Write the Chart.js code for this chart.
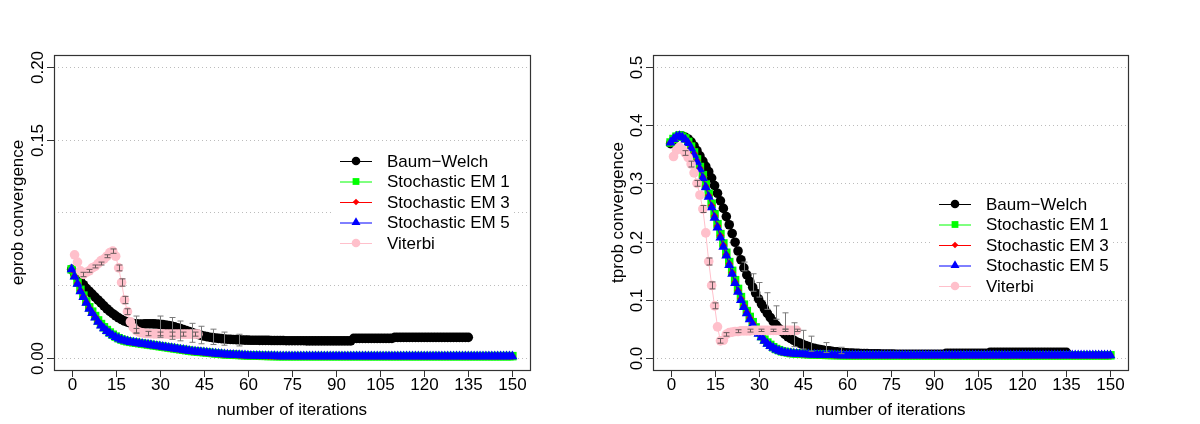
<!DOCTYPE html>
<html>
<head>
<meta charset="utf-8">
<script src="https://cdn.jsdelivr.net/npm/chart.js"></script>
<style>
  body { margin: 0; background: #fff; display: flex; }
  canvas { display: block; }
</style>
</head>
<body>
<canvas id="eprobChart" width="600" height="424"></canvas>
<canvas id="tprobChart" width="600" height="424"></canvas>
<script>
// ---- data ----
const seriesNames = ['Baum\u2212Welch', 'Stochastic EM 1', 'Stochastic EM 3', 'Stochastic EM 5', 'Viterbi'];
const iterTicks = [0, 15, 30, 45, 60, 75, 90, 105, 120, 135, 150];
const iterTickLabels = ['0', '15', '30', '45', '60', '75', '90', '105', '120', '135', '150'];

// first iteration of each series (Baum-Welch, SEM 1, SEM 3, SEM 5, Viterbi)
const seriesStart = [0, 0, 0, 0, 1];

// left panel: eprob convergence
const eprobGrid = [0, 0.05, 0.1, 0.15, 0.2];
const eprobTicks = [0, 0.15, 0.2];
const eprobTickLabels = ['0.00', '0.15', '0.20'];

const eprobBW = [
  0.061, 0.058, 0.0555, 0.053, 0.0505, 0.048, 0.046, 0.044, 0.042, 0.040,
  0.038, 0.036, 0.034, 0.0322, 0.0306, 0.0291, 0.0278, 0.0266, 0.0256, 0.0248,
  0.0242, 0.0238, 0.0236, 0.0235, 0.0235, 0.0236, 0.0237, 0.0237, 0.0236, 0.0235,
  0.0233, 0.0231, 0.0228, 0.0225, 0.0221, 0.0216, 0.0210, 0.0204, 0.0197, 0.0190,
  0.0183, 0.0176, 0.0170, 0.0164, 0.0158, 0.0153, 0.0149, 0.0145, 0.0142, 0.0139,
  0.0137, 0.0135, 0.0133, 0.0131, 0.0130, 0.0129, 0.0128, 0.0127, 0.0126, 0.0125,
  0.0125, 0.0124, 0.0124, 0.0124, 0.0123, 0.0123, 0.0123, 0.0123, 0.0122, 0.0122,
  0.0122, 0.0122, 0.0122, 0.0121, 0.0121, 0.0121, 0.0121, 0.0121, 0.0121, 0.0121,
  0.0120, 0.0120, 0.0120, 0.0120, 0.0120, 0.0120, 0.0120, 0.0120, 0.0120, 0.0120,
  0.0120, 0.0120, 0.0120, 0.0120, 0.0120, 0.0120, 0.0137, 0.0137, 0.0137, 0.0137,
  0.0137, 0.0137, 0.0137, 0.0137, 0.0137, 0.0137, 0.0137, 0.0137, 0.0137, 0.0137,
  0.0144, 0.0144, 0.0144, 0.0144, 0.0144, 0.0144, 0.0144, 0.0144, 0.0144, 0.0144,
  0.0144, 0.0144, 0.0144, 0.0144, 0.0144, 0.0144, 0.0144, 0.0144, 0.0144, 0.0144,
  0.0144, 0.0144, 0.0144, 0.0144, 0.0144, 0.0144
];
const eprobSEM1 = [
  0.061, 0.057, 0.052, 0.047, 0.043, 0.039, 0.035, 0.032, 0.029, 0.026,
  0.0235, 0.0213, 0.0194, 0.0177, 0.0162, 0.0149, 0.0138, 0.0129, 0.0122, 0.0117,
  0.0113, 0.0110, 0.0107, 0.0104, 0.0101, 0.0098, 0.0095, 0.0092, 0.0089, 0.0086,
  0.0083, 0.0080, 0.0077, 0.0074, 0.0071, 0.0068, 0.0065, 0.0062, 0.0059, 0.0056,
  0.0053, 0.0050, 0.0048, 0.0046, 0.0044, 0.0042, 0.0040, 0.0038, 0.0036, 0.0034,
  0.0032, 0.0030, 0.0028, 0.0027, 0.0026, 0.0025, 0.0024, 0.0023, 0.0022, 0.0021,
  0.0020, 0.0019, 0.0019, 0.0018, 0.0018, 0.0017, 0.0017, 0.0016, 0.0016, 0.0016,
  0.0015, 0.0015, 0.0015, 0.0015, 0.0015, 0.0015, 0.0015, 0.0015, 0.0015, 0.0015,
  0.0015, 0.0015, 0.0015, 0.0015, 0.0015, 0.0015, 0.0015, 0.0015, 0.0015, 0.0015,
  0.0015, 0.0015, 0.0015, 0.0015, 0.0015, 0.0015, 0.0015, 0.0015, 0.0015, 0.0015,
  0.0015, 0.0015, 0.0015, 0.0015, 0.0015, 0.0015, 0.0015, 0.0015, 0.0015, 0.0015,
  0.0015, 0.0015, 0.0015, 0.0015, 0.0015, 0.0015, 0.0015, 0.0015, 0.0015, 0.0015,
  0.0015, 0.0015, 0.0015, 0.0015, 0.0015, 0.0015, 0.0015, 0.0015, 0.0015, 0.0015,
  0.0015, 0.0015, 0.0015, 0.0015, 0.0015, 0.0015, 0.0015, 0.0015, 0.0015, 0.0015,
  0.0015, 0.0015, 0.0015, 0.0015, 0.0015, 0.0015, 0.0015, 0.0015, 0.0015, 0.0015,
  0.0015
];
const eprobSEM3 = [
  0.061, 0.0565, 0.0515, 0.0465, 0.0425, 0.0385, 0.0345, 0.0315, 0.0285, 0.0255,
  0.023, 0.0209, 0.019, 0.0174, 0.016, 0.0147, 0.0136, 0.0128, 0.0121, 0.0116,
  0.0112, 0.0109, 0.0106, 0.0103, 0.0100, 0.0097, 0.0094, 0.0091, 0.0088, 0.0085,
  0.0082, 0.0079, 0.0076, 0.0073, 0.0070, 0.0067, 0.0064, 0.0061, 0.0058, 0.0055,
  0.0052, 0.0049, 0.0047, 0.0045, 0.0043, 0.0041, 0.0039, 0.0037, 0.0035, 0.0033,
  0.0031, 0.0029, 0.0027, 0.0026, 0.0025, 0.0024, 0.0023, 0.0022, 0.0021, 0.0020,
  0.0019, 0.0018, 0.0018, 0.0017, 0.0017, 0.0016, 0.0016, 0.0015, 0.0015, 0.0015,
  0.0014, 0.0014, 0.0014, 0.0014, 0.0014, 0.0014, 0.0014, 0.0014, 0.0014, 0.0014,
  0.0014, 0.0014, 0.0014, 0.0014, 0.0014, 0.0014, 0.0014, 0.0014, 0.0014, 0.0014,
  0.0014, 0.0014, 0.0014, 0.0014, 0.0014, 0.0014, 0.0014, 0.0014, 0.0014, 0.0014,
  0.0014, 0.0014, 0.0014, 0.0014, 0.0014, 0.0014, 0.0014, 0.0014, 0.0014, 0.0014,
  0.0014, 0.0014, 0.0014, 0.0014, 0.0014, 0.0014, 0.0014, 0.0014, 0.0014, 0.0014,
  0.0014, 0.0014, 0.0014, 0.0014, 0.0014, 0.0014, 0.0014, 0.0014, 0.0014, 0.0014,
  0.0014, 0.0014, 0.0014, 0.0014, 0.0014, 0.0014, 0.0014, 0.0014, 0.0014, 0.0014,
  0.0014, 0.0014, 0.0014, 0.0014, 0.0014, 0.0014, 0.0014, 0.0014, 0.0014, 0.0014,
  0.0014
];
const eprobSEM5 = [
  0.061, 0.056, 0.051, 0.046, 0.042, 0.038, 0.034, 0.031, 0.028, 0.025,
  0.0225, 0.0205, 0.0187, 0.0171, 0.0157, 0.0145, 0.0135, 0.0127, 0.0121, 0.0116,
  0.0112, 0.0109, 0.0106, 0.0103, 0.0100, 0.0097, 0.0094, 0.0091, 0.0088, 0.0085,
  0.0082, 0.0079, 0.0076, 0.0073, 0.0070, 0.0067, 0.0064, 0.0061, 0.0058, 0.0055,
  0.0052, 0.0049, 0.0047, 0.0045, 0.0043, 0.0041, 0.0039, 0.0037, 0.0035, 0.0033,
  0.0031, 0.0029, 0.0027, 0.0026, 0.0025, 0.0024, 0.0023, 0.0022, 0.0021, 0.0020,
  0.0019, 0.0018, 0.0018, 0.0017, 0.0017, 0.0016, 0.0016, 0.0015, 0.0015, 0.0015,
  0.0014, 0.0014, 0.0014, 0.0014, 0.0014, 0.0014, 0.0014, 0.0014, 0.0014, 0.0014,
  0.0014, 0.0014, 0.0014, 0.0014, 0.0014, 0.0014, 0.0014, 0.0014, 0.0014, 0.0014,
  0.0014, 0.0014, 0.0014, 0.0014, 0.0014, 0.0014, 0.0014, 0.0014, 0.0014, 0.0014,
  0.0014, 0.0014, 0.0014, 0.0014, 0.0014, 0.0014, 0.0014, 0.0014, 0.0014, 0.0014,
  0.0014, 0.0014, 0.0014, 0.0014, 0.0014, 0.0014, 0.0014, 0.0014, 0.0014, 0.0014,
  0.0014, 0.0014, 0.0014, 0.0014, 0.0014, 0.0014, 0.0014, 0.0014, 0.0014, 0.0014,
  0.0014, 0.0014, 0.0014, 0.0014, 0.0014, 0.0014, 0.0014, 0.0014, 0.0014, 0.0014,
  0.0014, 0.0014, 0.0014, 0.0014, 0.0014, 0.0014, 0.0014, 0.0014, 0.0014, 0.0014,
  0.0014
];
const eprobVit = [
  0.071, 0.066, 0.060, 0.0575, 0.059, 0.060, 0.062, 0.063, 0.065, 0.067,
  0.068, 0.070, 0.0725, 0.0735, 0.070, 0.062, 0.052, 0.040, 0.032, 0.025,
  0.021, 0.019, 0.018, 0.0175, 0.0172, 0.0170, 0.0169, 0.0168, 0.0168, 0.0167,
  0.0167, 0.0167, 0.0166, 0.0166, 0.0166, 0.0166, 0.0166, 0.0166, 0.0166, 0.0166,
  0.0166, 0.0166, 0.0166
];

// error bars, left panel
const eprobBWErrIter = [22, 30, 34, 37, 41, 44, 48, 52, 57];
const eprobBWErrHigh = [0.029, 0.029, 0.028, 0.0256, 0.024, 0.022, 0.020, 0.018, 0.0165];
const eprobBWErrLow = [0.017, 0.0144, 0.013, 0.012, 0.011, 0.010, 0.0095, 0.009, 0.0085];
const eprobVitErrIter = [4, 6, 8, 10, 12, 14, 16, 17, 18, 19, 22, 26, 30, 34, 38, 42];
const eprobVitErrHigh = [0.059, 0.061, 0.064, 0.066, 0.071, 0.075, 0.064, 0.0545, 0.0425, 0.034, 0.0205, 0.0185, 0.018, 0.018, 0.018, 0.018];
const eprobVitErrLow = [0.056, 0.059, 0.062, 0.064, 0.069, 0.072, 0.060, 0.0495, 0.0375, 0.030, 0.0175, 0.0155, 0.0155, 0.0152, 0.0152, 0.0152];

// right panel: tprob convergence
const tprobGrid = [0, 0.1, 0.2, 0.3, 0.4, 0.5];
const tprobTicks = [0, 0.1, 0.2, 0.3, 0.4, 0.5];
const tprobTickLabels = ['0.0', '0.1', '0.2', '0.3', '0.4', '0.5'];

const tprobBW = [
  0.368, 0.374, 0.379, 0.381, 0.381, 0.379, 0.376, 0.371, 0.364, 0.356,
  0.347, 0.338, 0.329, 0.320, 0.309, 0.296, 0.283, 0.270, 0.257, 0.243,
  0.229, 0.214, 0.199, 0.184, 0.169, 0.155, 0.143, 0.132, 0.122, 0.112,
  0.102, 0.093, 0.085, 0.077, 0.070, 0.063, 0.057, 0.051, 0.046, 0.041,
  0.037, 0.034, 0.031, 0.028, 0.026, 0.024, 0.022, 0.020, 0.018, 0.017,
  0.016, 0.015, 0.014, 0.013, 0.013, 0.012, 0.011, 0.011, 0.010, 0.010,
  0.0095, 0.0092, 0.0090, 0.0088, 0.0086, 0.0084, 0.0082, 0.0080, 0.0079, 0.0078,
  0.0077, 0.0076, 0.0075, 0.0074, 0.0073, 0.0072, 0.0072, 0.0071, 0.0071, 0.0071,
  0.0070, 0.0070, 0.0070, 0.0070, 0.0070, 0.0070, 0.0070, 0.0070, 0.0070, 0.0070,
  0.0070, 0.0070, 0.0070, 0.0070, 0.0085, 0.0085, 0.0085, 0.0085, 0.0085, 0.0085,
  0.0085, 0.0085, 0.0085, 0.0085, 0.0085, 0.0085, 0.0085, 0.0085, 0.0085, 0.0103,
  0.0103, 0.0103, 0.0103, 0.0103, 0.0103, 0.0103, 0.0103, 0.0103, 0.0103, 0.0103,
  0.0103, 0.0103, 0.0103, 0.0103, 0.0103, 0.0103, 0.0103, 0.0103, 0.0103, 0.0103,
  0.0103, 0.0103, 0.0103, 0.0103, 0.0103, 0.0103
];
const tprobSEM1 = [
  0.370, 0.376, 0.380, 0.382, 0.380, 0.377, 0.371, 0.363, 0.353, 0.341,
  0.328, 0.314, 0.298, 0.282, 0.265, 0.247, 0.230, 0.213, 0.197, 0.181,
  0.165, 0.150, 0.134, 0.119, 0.105, 0.092, 0.081, 0.071, 0.062, 0.053,
  0.045, 0.038, 0.032, 0.027, 0.023, 0.019, 0.016, 0.014, 0.012, 0.011,
  0.010, 0.0090, 0.0085, 0.0082, 0.0079, 0.0076, 0.0073, 0.0071, 0.0069, 0.0067,
  0.0065, 0.0063, 0.0061, 0.0059, 0.0058, 0.0057, 0.0056, 0.0055, 0.0054, 0.0053,
  0.0052, 0.0052, 0.0052, 0.0052, 0.0052, 0.0052, 0.0052, 0.0052, 0.0052, 0.0052,
  0.0052, 0.0052, 0.0052, 0.0052, 0.0052, 0.0052, 0.0052, 0.0052, 0.0052, 0.0052,
  0.0052, 0.0052, 0.0052, 0.0052, 0.0052, 0.0052, 0.0052, 0.0052, 0.0052, 0.0052,
  0.0052, 0.0052, 0.0052, 0.0052, 0.0052, 0.0052, 0.0052, 0.0052, 0.0052, 0.0052,
  0.0052, 0.0052, 0.0052, 0.0052, 0.0052, 0.0052, 0.0052, 0.0052, 0.0052, 0.0052,
  0.0052, 0.0052, 0.0052, 0.0052, 0.0052, 0.0052, 0.0052, 0.0052, 0.0052, 0.0052,
  0.0052, 0.0052, 0.0052, 0.0052, 0.0052, 0.0052, 0.0052, 0.0052, 0.0052, 0.0052,
  0.0052, 0.0052, 0.0052, 0.0052, 0.0052, 0.0052, 0.0052, 0.0052, 0.0052, 0.0052,
  0.0052, 0.0052, 0.0052, 0.0052, 0.0052, 0.0052, 0.0052, 0.0052, 0.0052, 0.0052,
  0.0052
];
const tprobSEM3 = [
  0.370, 0.376, 0.380, 0.381, 0.380, 0.376, 0.370, 0.361, 0.351, 0.339,
  0.326, 0.311, 0.295, 0.279, 0.262, 0.244, 0.227, 0.210, 0.194, 0.178,
  0.162, 0.147, 0.131, 0.116, 0.102, 0.090, 0.079, 0.069, 0.060, 0.051,
  0.043, 0.037, 0.031, 0.026, 0.022, 0.018, 0.015, 0.013, 0.011, 0.010,
  0.0090, 0.0087, 0.0083, 0.0080, 0.0077, 0.0074, 0.0072, 0.0070, 0.0068, 0.0066,
  0.0064, 0.0062, 0.0060, 0.0058, 0.0057, 0.0056, 0.0055, 0.0054, 0.0053, 0.0052,
  0.0051, 0.0051, 0.0051, 0.0051, 0.0051, 0.0051, 0.0051, 0.0051, 0.0051, 0.0051,
  0.0051, 0.0051, 0.0051, 0.0051, 0.0051, 0.0051, 0.0051, 0.0051, 0.0051, 0.0051,
  0.0051, 0.0051, 0.0051, 0.0051, 0.0051, 0.0051, 0.0051, 0.0051, 0.0051, 0.0051,
  0.0051, 0.0051, 0.0051, 0.0051, 0.0051, 0.0051, 0.0051, 0.0051, 0.0051, 0.0051,
  0.0051, 0.0051, 0.0051, 0.0051, 0.0051, 0.0051, 0.0051, 0.0051, 0.0051, 0.0051,
  0.0051, 0.0051, 0.0051, 0.0051, 0.0051, 0.0051, 0.0051, 0.0051, 0.0051, 0.0051,
  0.0051, 0.0051, 0.0051, 0.0051, 0.0051, 0.0051, 0.0051, 0.0051, 0.0051, 0.0051,
  0.0051, 0.0051, 0.0051, 0.0051, 0.0051, 0.0051, 0.0051, 0.0051, 0.0051, 0.0051,
  0.0051, 0.0051, 0.0051, 0.0051, 0.0051, 0.0051, 0.0051, 0.0051, 0.0051, 0.0051,
  0.0051
];
const tprobSEM5 = [
  0.370, 0.376, 0.380, 0.381, 0.379, 0.375, 0.369, 0.360, 0.349, 0.337,
  0.324, 0.309, 0.293, 0.277, 0.259, 0.241, 0.224, 0.207, 0.191, 0.176,
  0.160, 0.145, 0.129, 0.114, 0.100, 0.088, 0.077, 0.067, 0.058, 0.050,
  0.042, 0.036, 0.030, 0.025, 0.021, 0.018, 0.015, 0.013, 0.011, 0.010,
  0.0090, 0.0085, 0.0080, 0.0078, 0.0075, 0.0072, 0.0070, 0.0068, 0.0066, 0.0064,
  0.0062, 0.0060, 0.0058, 0.0057, 0.0056, 0.0055, 0.0054, 0.0053, 0.0052, 0.0051,
  0.0050, 0.0050, 0.0050, 0.0050, 0.0050, 0.0050, 0.0050, 0.0050, 0.0050, 0.0050,
  0.0050, 0.0050, 0.0050, 0.0050, 0.0050, 0.0050, 0.0050, 0.0050, 0.0050, 0.0050,
  0.0050, 0.0050, 0.0050, 0.0050, 0.0050, 0.0050, 0.0050, 0.0050, 0.0050, 0.0050,
  0.0050, 0.0050, 0.0050, 0.0050, 0.0050, 0.0050, 0.0050, 0.0050, 0.0050, 0.0050,
  0.0050, 0.0050, 0.0050, 0.0050, 0.0050, 0.0050, 0.0050, 0.0050, 0.0050, 0.0050,
  0.0050, 0.0050, 0.0050, 0.0050, 0.0050, 0.0050, 0.0050, 0.0050, 0.0050, 0.0050,
  0.0050, 0.0050, 0.0050, 0.0050, 0.0050, 0.0050, 0.0050, 0.0050, 0.0050, 0.0050,
  0.0050, 0.0050, 0.0050, 0.0050, 0.0050, 0.0050, 0.0050, 0.0050, 0.0050, 0.0050,
  0.0050, 0.0050, 0.0050, 0.0050, 0.0050, 0.0050, 0.0050, 0.0050, 0.0050, 0.0050,
  0.0050
];
const tprobVit = [
  0.346, 0.357, 0.362, 0.358, 0.352, 0.344, 0.333, 0.318, 0.300, 0.280,
  0.256, 0.215, 0.166, 0.125, 0.090, 0.054, 0.030, 0.031, 0.041, 0.044,
  0.045, 0.046, 0.046, 0.047, 0.047, 0.047, 0.047, 0.048, 0.048, 0.048,
  0.048, 0.048, 0.048, 0.048, 0.048, 0.048, 0.048, 0.048, 0.048, 0.048,
  0.048, 0.048, 0.048
];

// error bars, right panel
const tprobBWErrIter = [25, 28, 30, 33, 36, 39, 42, 45, 48, 53, 58];
const tprobBWErrHigh = [0.165, 0.145, 0.130, 0.1125, 0.090, 0.078, 0.061, 0.048, 0.038, 0.027, 0.019];
const tprobBWErrLow = [0.150, 0.115, 0.105, 0.084, 0.067, 0.050, 0.020, 0.016, 0.012, 0.010, 0.008];
const tprobVitErrIter = [5, 7, 9, 11, 13, 14, 15, 17, 19, 23, 27, 31, 35, 39, 43];
const tprobVitErrHigh = [0.356, 0.338, 0.305, 0.262, 0.172, 0.131, 0.095, 0.034, 0.044, 0.049, 0.050, 0.050, 0.050, 0.050, 0.050];
const tprobVitErrLow = [0.348, 0.328, 0.295, 0.250, 0.160, 0.119, 0.085, 0.026, 0.038, 0.044, 0.045, 0.046, 0.046, 0.046, 0.046];

// ---- drawing ----
const FONT = '17px "Liberation Sans", Arial, Helvetica, sans-serif';

const seriesStyle = [
  { color: '#000000', pointStyle: 'circle',   radius: 4.8, legendRadius: 4.3, order: 5 },
  { color: '#00ff00', pointStyle: 'rect',     radius: 6.0, legendRadius: 4.8, order: 4 },
  { color: '#ff0000', pointStyle: 'rectRot',  radius: 3.8, legendRadius: 3.3, order: 3 },
  { color: '#0000ff', pointStyle: 'triangle', radius: 5.8, legendRadius: 5.2, order: 2 },
  { color: '#ffc0cb', pointStyle: 'circle',   radius: 4.8, legendRadius: 4.3, order: 1 }
];

function toPoints(values, start) {
  return values.map((v, i) => ({ x: start + i, y: v }));
}

function makePanel(canvasId, p) {
  const frame = {
    id: 'rFrame',
    beforeDatasetsDraw(chart) {
      const { ctx, chartArea: a, scales: { y } } = chart;
      ctx.save();
      ctx.strokeStyle = '#bcbcbc';
      ctx.lineWidth = 1;
      ctx.setLineDash([1, 3]);
      p.grid.forEach(v => {
        const py = Math.round(y.getPixelForValue(v)) + 0.5;
        ctx.beginPath();
        ctx.moveTo(a.left, py);
        ctx.lineTo(a.right, py);
        ctx.stroke();
      });
      ctx.restore();
    },
    afterDatasetsDraw(chart) {
      const { ctx, chartArea: a, scales: { x, y } } = chart;
      ctx.save();

      // error bars
      ctx.lineWidth = 1;
      p.errors.forEach(e => {
        ctx.strokeStyle = e.color;
        e.iter.forEach((it, i) => {
          const px = Math.round(x.getPixelForValue(it)) + 0.5;
          const y1 = y.getPixelForValue(e.low[i]);
          const y2 = y.getPixelForValue(e.high[i]);
          ctx.beginPath();
          ctx.moveTo(px, y1); ctx.lineTo(px, y2);
          ctx.moveTo(px - 3, y1); ctx.lineTo(px + 3, y1);
          ctx.moveTo(px - 3, y2); ctx.lineTo(px + 3, y2);
          ctx.stroke();
        });
      });

      // box
      ctx.strokeStyle = '#333';
      ctx.lineWidth = 1.2;
      ctx.strokeRect(a.left + 0.5, a.top + 0.5, a.right - a.left, a.bottom - a.top);

      // x ticks and labels
      ctx.fillStyle = '#000';
      ctx.font = FONT;
      ctx.lineWidth = 1;
      ctx.textAlign = 'center';
      ctx.textBaseline = 'alphabetic';
      iterTicks.forEach((v, i) => {
        const px = Math.round(x.getPixelForValue(v)) + 0.5;
        ctx.beginPath();
        ctx.moveTo(px, a.bottom); ctx.lineTo(px, a.bottom + 7);
        ctx.stroke();
        ctx.fillText(iterTickLabels[i], px, a.bottom + 20);
      });

      // y ticks and rotated labels
      p.ticks.forEach((v, i) => {
        const py = Math.round(y.getPixelForValue(v)) + 0.5;
        ctx.beginPath();
        ctx.moveTo(a.left - 7, py); ctx.lineTo(a.left, py);
        ctx.stroke();
        ctx.save();
        ctx.translate(a.left - 11, py);
        ctx.rotate(-Math.PI / 2);
        ctx.fillText(p.tickLabels[i], 0, 0);
        ctx.restore();
      });

      // axis titles
      ctx.fillText('number of iterations', (a.left + a.right) / 2, 415);
      ctx.save();
      ctx.translate(23, (a.top + a.bottom) / 2);
      ctx.rotate(-Math.PI / 2);
      ctx.fillText(p.yTitle, 0, 0);
      ctx.restore();

      // legend (white background, no border)
      const lx = p.legend.x, ly = p.legend.y, step = 20.5;
      ctx.fillStyle = '#fff';
      ctx.fillRect(lx - 6, ly - 11, 180, 104);
      seriesNames.forEach((name, k) => {
        const s = seriesStyle[k];
        const ry = ly + k * step;
        ctx.strokeStyle = s.color;
        ctx.lineWidth = 1;
        ctx.beginPath();
        ctx.moveTo(lx, ry + 0.5); ctx.lineTo(lx + 32, ry + 0.5);
        ctx.stroke();
        ctx.fillStyle = s.color;
        Chart.helpers.drawPoint(ctx, { pointStyle: s.pointStyle, radius: s.legendRadius, rotation: 0, borderWidth: 0 }, lx + 16, ry);
        ctx.fillStyle = '#000';
        ctx.textAlign = 'left';
        ctx.textBaseline = 'middle';
        ctx.fillText(name, lx + 47, ry + 1);
      });
      ctx.restore();
    }
  };

  return new Chart(document.getElementById(canvasId), {
    type: 'line',
    data: {
      datasets: p.series.map((values, k) => ({
        label: seriesNames[k],
        data: toPoints(values, seriesStart[k]),
        borderColor: seriesStyle[k].color,
        backgroundColor: seriesStyle[k].color,
        borderWidth: 1,
        pointStyle: seriesStyle[k].pointStyle,
        pointRadius: seriesStyle[k].radius,
        pointBorderWidth: 0,
        tension: 0,
        order: seriesStyle[k].order
      }))
    },
    options: {
      responsive: false,
      animation: false,
      devicePixelRatio: 1,
      events: [],
      layout: { padding: p.padding },
      scales: {
        x: { type: 'linear', min: -6, max: 156, display: false },
        y: { type: 'linear', min: p.yMin, max: p.yMax, display: false }
      },
      plugins: { legend: { display: false }, tooltip: { enabled: false } }
    },
    plugins: [frame]
  });
}

makePanel('eprobChart', {
  series: [eprobBW, eprobSEM1, eprobSEM3, eprobSEM5, eprobVit],
  yMin: -0.008, yMax: 0.208,
  grid: eprobGrid, ticks: eprobTicks, tickLabels: eprobTickLabels,
  yTitle: 'eprob convergence',
  padding: { left: 54, top: 55, right: 70, bottom: 54 },
  legend: { x: 340, y: 161 },
  errors: [
    { iter: eprobBWErrIter, low: eprobBWErrLow, high: eprobBWErrHigh, color: '#7a7a7a' },
    { iter: eprobVitErrIter, low: eprobVitErrLow, high: eprobVitErrHigh, color: '#6a5a5c' }
  ]
});

makePanel('tprobChart', {
  series: [tprobBW, tprobSEM1, tprobSEM3, tprobSEM5, tprobVit],
  yMin: -0.02, yMax: 0.52,
  grid: tprobGrid, ticks: tprobTicks, tickLabels: tprobTickLabels,
  yTitle: 'tprob convergence',
  padding: { left: 53, top: 55, right: 72, bottom: 54 },
  legend: { x: 339, y: 204 },
  errors: [
    { iter: tprobBWErrIter, low: tprobBWErrLow, high: tprobBWErrHigh, color: '#7a7a7a' },
    { iter: tprobVitErrIter, low: tprobVitErrLow, high: tprobVitErrHigh, color: '#6a5a5c' }
  ]
});
</script>
</body>
</html>
